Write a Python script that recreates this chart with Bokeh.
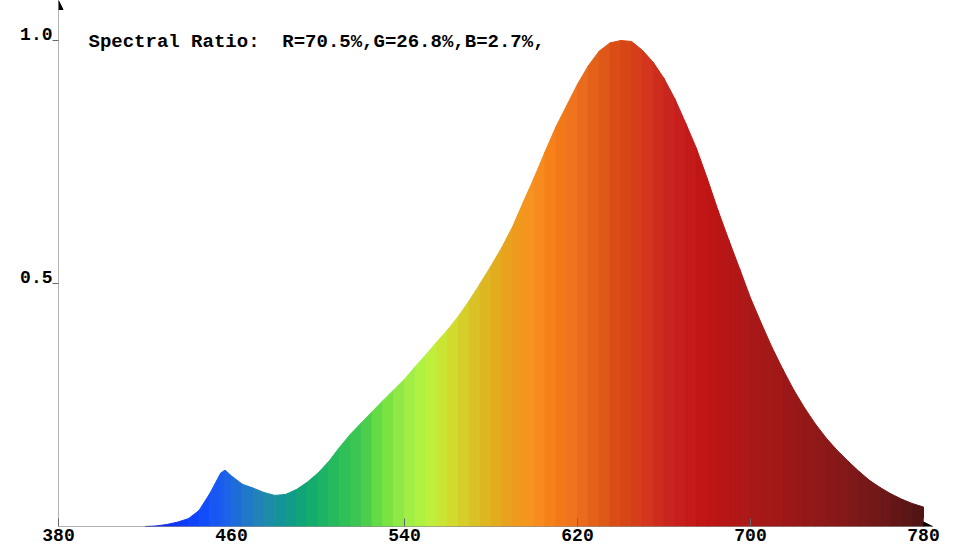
from bokeh.plotting import figure
from bokeh.models import (Range1d, FixedTicker, Label, Arrow, NormalHead,
                          ColumnDataSource, LinearAxis)
from bokeh.embed import file_html
from bokeh.resources import INLINE

# ---------------- data ----------------
wavelength = [380, 385, 390, 395, 400, 405, 410, 415, 420, 425, 430, 435, 440, 445,
              450, 455, 457, 460, 465, 470, 475, 480, 485, 490, 495, 500, 505, 510,
              515, 520, 525, 530, 535, 540, 545, 550, 555, 560, 565, 570, 575, 580,
              585, 590, 595, 600, 605, 610, 615, 620, 625, 630, 635, 640, 645, 650,
              655, 660, 665, 670, 675, 680, 685, 690, 695, 700, 705, 710, 715, 720,
              725, 730, 735, 740, 745, 750, 755, 760, 765, 770, 775, 780]
intensity = [0.0, 0.0, 0.0, 0.0, 0.0, 0.0, 0.0, 0.0, 0.0, 0.001, 0.004, 0.009, 0.016, 0.033,
             0.068, 0.110, 0.116, 0.104, 0.087, 0.079, 0.070, 0.064, 0.066, 0.076, 0.091, 0.110, 0.134, 0.163,
             0.190, 0.213, 0.236, 0.259, 0.281, 0.303, 0.329, 0.354, 0.380, 0.405, 0.433, 0.465, 0.500, 0.536,
             0.574, 0.617, 0.668, 0.718, 0.771, 0.822, 0.866, 0.910, 0.948, 0.978, 0.995, 1.000, 0.998, 0.980,
             0.955, 0.922, 0.880, 0.830, 0.778, 0.716, 0.650, 0.589, 0.530, 0.470, 0.418, 0.368, 0.323, 0.281,
             0.244, 0.211, 0.182, 0.157, 0.135, 0.114, 0.095, 0.080, 0.067, 0.056, 0.047, 0.040]

x_ticks = [380, 460, 540, 620, 700, 780]
y_ticks = [0.5, 1.0]
y_tick_labels = {0.5: "0.5", 1.0: "1.0"}
title_head = "Spectral Ratio:"
title_tail = "R=70.5%,G=26.8%,B=2.7%,"

# ---------------- styles ----------------
stop_nm = [420, 430, 445, 455, 465, 475, 485, 495, 505, 520, 530, 540, 550, 560,
           570, 580, 590, 600, 610, 620, 630, 640, 650, 665, 680, 700, 720, 740, 760, 780]
stop_hex = ["#1020e0", "#1030f0", "#1048ff", "#1a5cf0", "#2072d0", "#2088b0", "#109890",
            "#10a870", "#20b860", "#40c850", "#70e040", "#98ec48", "#b8f440", "#d0e030",
            "#d8c828", "#e0b020", "#ec9e1c", "#f89020", "#f47c16", "#ee7020", "#e05c18",
            "#d84a14", "#d53a1c", "#c82020", "#c01414", "#aa1818", "#9a1818", "#881818",
            "#701818", "#4e1414"]
FONT = "Liberation Mono"
TICK_FSIZE = "18px"
TITLE_FSIZE = "19px"
AXIS_COLOR = "#666666"


def hex_to_rgb(h):
    h = h.lstrip("#")
    return tuple(int(h[i:i + 2], 16) for i in (0, 2, 4))


def color_at(nm):
    if nm <= stop_nm[0]:
        return stop_hex[0]
    if nm >= stop_nm[-1]:
        return stop_hex[-1]
    for i in range(len(stop_nm) - 1):
        a, b = stop_nm[i], stop_nm[i + 1]
        if a <= nm <= b:
            t = (nm - a) / (b - a)
            ca, cb = hex_to_rgb(stop_hex[i]), hex_to_rgb(stop_hex[i + 1])
            c = [round(ca[k] + (cb[k] - ca[k]) * t) for k in range(3)]
            return "#%02x%02x%02x" % tuple(c)
    return stop_hex[-1]


xs, ys, cols = [], [], []
for i in range(len(wavelength) - 1):
    a, b = wavelength[i], wavelength[i + 1]
    va, vb = intensity[i], intensity[i + 1]
    if va == 0 and vb == 0:
        continue
    xs.append([a, b, b, a])
    ys.append([0, 0, vb, va])
    cols.append(color_at((a + b) / 2))

src = ColumnDataSource(dict(xs=xs, ys=ys, color=cols))

FRAME_H = 526
PX_PER_UNIT = 486.0
y_top = FRAME_H / PX_PER_UNIT
x_end_range = 380 + 876 / 2.1625
x_arrow_end = 784.2
label_shift = 6.5 / PX_PER_UNIT   # y-tick labels sit slightly above their ticks

p = figure(frame_width=876, frame_height=FRAME_H,
           x_range=Range1d(380, x_end_range), y_range=Range1d(0, y_top),
           output_backend="svg", toolbar_location=None,
           min_border_left=58, min_border_right=10, min_border_top=0, min_border_bottom=24)
p.background_fill_color = "white"
p.border_fill_color = "white"
p.outline_line_color = None
p.grid.visible = False

p.patches("xs", "ys", source=src, fill_color="color", line_color="color", line_width=1)

# x axis
p.xaxis.ticker = FixedTicker(ticks=x_ticks)
p.xaxis.axis_line_color = None
p.xaxis.major_tick_in = 8
p.xaxis.major_tick_out = 0
p.xaxis.major_tick_line_color = AXIS_COLOR
p.xaxis.minor_tick_line_color = None
p.xaxis.major_label_standoff = 2
p.xaxis.major_label_text_font = FONT
p.xaxis.major_label_text_font_style = "bold"
p.xaxis.major_label_text_font_size = TICK_FSIZE
p.xaxis.major_label_text_color = "black"

# y axis: tick marks only
p.yaxis.ticker = FixedTicker(ticks=y_ticks)
p.yaxis.axis_line_color = None
p.yaxis.major_tick_in = 0
p.yaxis.major_tick_out = 6
p.yaxis.major_tick_line_color = AXIS_COLOR
p.yaxis.minor_tick_line_color = None
p.yaxis.major_label_text_color = None
p.yaxis.major_label_standoff = 0

# y axis labels: a second axis whose range is shifted so labels sit above the ticks
p.extra_y_ranges = {"labels": Range1d(-label_shift, y_top - label_shift)}
lab_axis = LinearAxis(y_range_name="labels", ticker=FixedTicker(ticks=y_ticks),
                      major_label_overrides=y_tick_labels,
                      axis_line_color=None, major_tick_line_color=None,
                      minor_tick_line_color=None, major_tick_in=0, major_tick_out=0,
                      major_label_standoff=0,
                      major_label_text_font=FONT, major_label_text_font_style="bold",
                      major_label_text_font_size=TICK_FSIZE, major_label_text_color="black")
p.add_layout(lab_axis, "left")

# title text (two parts: the reference has two spaces between them)
p.add_layout(Label(x=380, y=y_ticks[-1], text=title_head, x_offset=30, y_offset=-1,
                   text_align="left", text_baseline="alphabetic",
                   text_font=FONT, text_font_style="bold",
                   text_font_size=TITLE_FSIZE, text_color="black"))
p.add_layout(Label(x=380, y=y_ticks[-1], text=title_tail, x_offset=30 + 17 * 11.4, y_offset=-1,
                   text_align="left", text_baseline="alphabetic",
                   text_font=FONT, text_font_style="bold",
                   text_font_size=TITLE_FSIZE, text_color="black"))

# axis lines with arrow heads
p.add_layout(Arrow(end=NormalHead(size=9, fill_color="black", line_color="black"),
                   x_start=380, y_start=0, x_end=380, y_end=y_top,
                   line_color=AXIS_COLOR, line_width=1))
p.add_layout(Arrow(end=NormalHead(size=9, fill_color="black", line_color="black"),
                   x_start=380, y_start=0, x_end=x_arrow_end, y_end=0,
                   line_color=AXIS_COLOR, line_width=1))

open("out.html", "w").write(file_html(p, INLINE))
